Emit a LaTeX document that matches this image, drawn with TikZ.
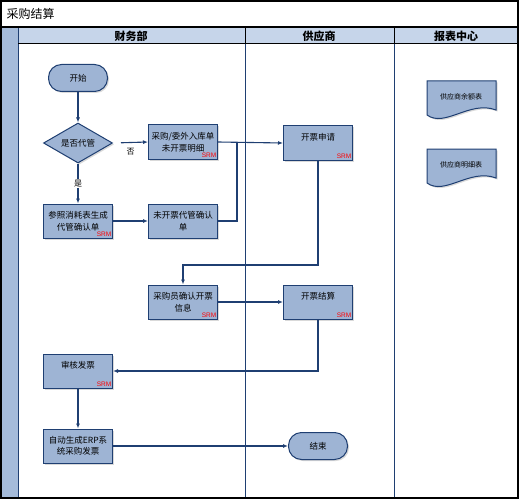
\documentclass[tikz,border=0pt]{standalone}
\usepackage{fontspec}
\setmainfont{Noto Sans CJK SC}
\newfontfamily\srmfont{Liberation Sans}
\usetikzlibrary{arrows.meta}
\usetikzlibrary{shapes.geometric}
\usetikzlibrary{shadows}
\definecolor{laneblue}{RGB}{31,63,114}
\definecolor{boxfill}{RGB}{158,180,212}
\definecolor{headfill}{RGB}{198,213,234}
\definecolor{stripfill}{RGB}{165,187,218}

\begin{document}
\begin{tikzpicture}[x=1pt,y=-1pt,>/.tip={Latex[length=5pt,width=4pt]},
	flow/.style={draw=laneblue,line width=1.1pt},
	boxshadow/.style={drop shadow={shadow xshift=1.5pt,shadow yshift=-1.5pt,opacity=0.3}},
	box/.style={draw=laneblue,fill=boxfill,line width=1pt,minimum width=69pt,minimum height=34pt,
		text width=66pt,align=center,inner sep=1pt,font=\fontsize{8.5}{11.5}\selectfont,boxshadow},
	srmbox/.style={box,text depth=12pt,
		label={[anchor=south east,inner sep=1.5pt,text=red,font=\srmfont\fontsize{6.5}{7}\selectfont]south east:SRM}},
	term/.style={draw=laneblue,fill=boxfill,line width=1pt,rounded corners=13pt,minimum width=59pt,
		minimum height=27pt,font=\fontsize{8.5}{11}\selectfont,boxshadow},
	head/.style={font=\bfseries\fontsize{11}{13}\selectfont},
	docu/.style={draw=laneblue,fill=boxfill,line width=1pt,boxshadow}]
	\useasboundingbox (0,0) rectangle (519,500);
	% frame and lanes
	\fill[stripfill] (1,27) rectangle (18,498);
	\fill[headfill] (18,27) rectangle (518,44);
	\draw[laneblue,line width=1pt] (18,27) -- (18,498);
	\draw[laneblue,line width=1pt] (245,44) -- (245,498);
	\draw[laneblue,line width=1pt] (394,44) -- (394,498);
	\draw[line width=1pt] (18,44) -- (518,44) (245,27) -- (245,44) (394,27) -- (394,44);
	\draw[line width=1.2pt] (1,1) rectangle (518,498);
	\draw[line width=1.2pt] (1,27) -- (518,27);
	\draw (3,14) node (title) [anchor=west,font=\fontsize{12}{14}\selectfont] {采购结算};
	\draw (131,36) node (fin) [head] {财务部};
	\draw (319,36) node (sup) [head] {供应商};
	\draw (456,36) node (rpt) [head] {报表中心};

	% finance lane
	\draw (78,78) node (start) [term] {开始};
	\draw (78,143) node (decide) [draw=laneblue,fill=boxfill,line width=1pt,diamond,aspect=1.7,
		minimum width=69pt,minimum height=40pt,inner sep=0pt,font=\fontsize{8.5}{11}\selectfont,boxshadow] {是否代管};
	\draw (183,142) node (indetail) [srmbox] {采购/委外入库单\\未开票明细};
	\draw (78,221) node (consume) [srmbox] {参照消耗表生成\\代管确认单};
	\draw (183,221) node (unconf) [box] {未开票代管确认\\单};
	\draw (183,302) node (confirm) [srmbox] {采购员确认开票\\信息};
	\draw (78,371) node (audit) [srmbox] {审核发票};
	\draw (78,446) node (auto) [box] {自动生成ERP系\\统采购发票};

	% supplier lane
	\draw (318,143) node (apply) [srmbox] {开票申请};
	\draw (318,302) node (settle) [srmbox] {开票结算};
	\draw (318,446) node (end) [term] {结束};

	% report lane
	\foreach \dy/\nm/\txt in {0/balrpt/供应商余额表, 68/detrpt/供应商明细表} {
		\draw[docu] (427,81+\dy) -- (496,81+\dy) -- (496,110+\dy)
			.. controls (470,100+\dy) and (445,128+\dy) .. (427,115+\dy) -- cycle;
		\draw (461,97+\dy) node (\nm) [font=\fontsize{7}{9}\selectfont] {\txt};
	}

	% connectors
	\coordinate (jn) at (237,142);
	\coordinate (turn1) at (250,265);
	\draw[flow,->] (start) -- (decide);
	\draw[flow,->,shorten <=8pt] (decide.east) -- (indetail.west)
		node [midway,below=2pt,text=black,font=\fontsize{8}{10}\selectfont] {否};
	\draw[flow,->] (decide.south) -- (consume.north)
		node [midway,fill=white,inner sep=1pt,text=black,font=\fontsize{8}{10}\selectfont] {是};
	\draw[flow,->] (consume) -- (unconf);
	\draw[flow,->] (indetail.east) -- (apply.west);
	\draw[flow] (unconf.east) -| (jn);
	\draw[flow,->] (apply.south) |- (turn1) -| (confirm.north);
	\draw[flow,->] (confirm) -- (settle);
	\draw[flow,->] (settle.south) |- (audit.east);
	\draw[flow,->] (audit) -- (auto);
	\draw[flow,->] (auto) -- (end);
\end{tikzpicture}
\end{document}
